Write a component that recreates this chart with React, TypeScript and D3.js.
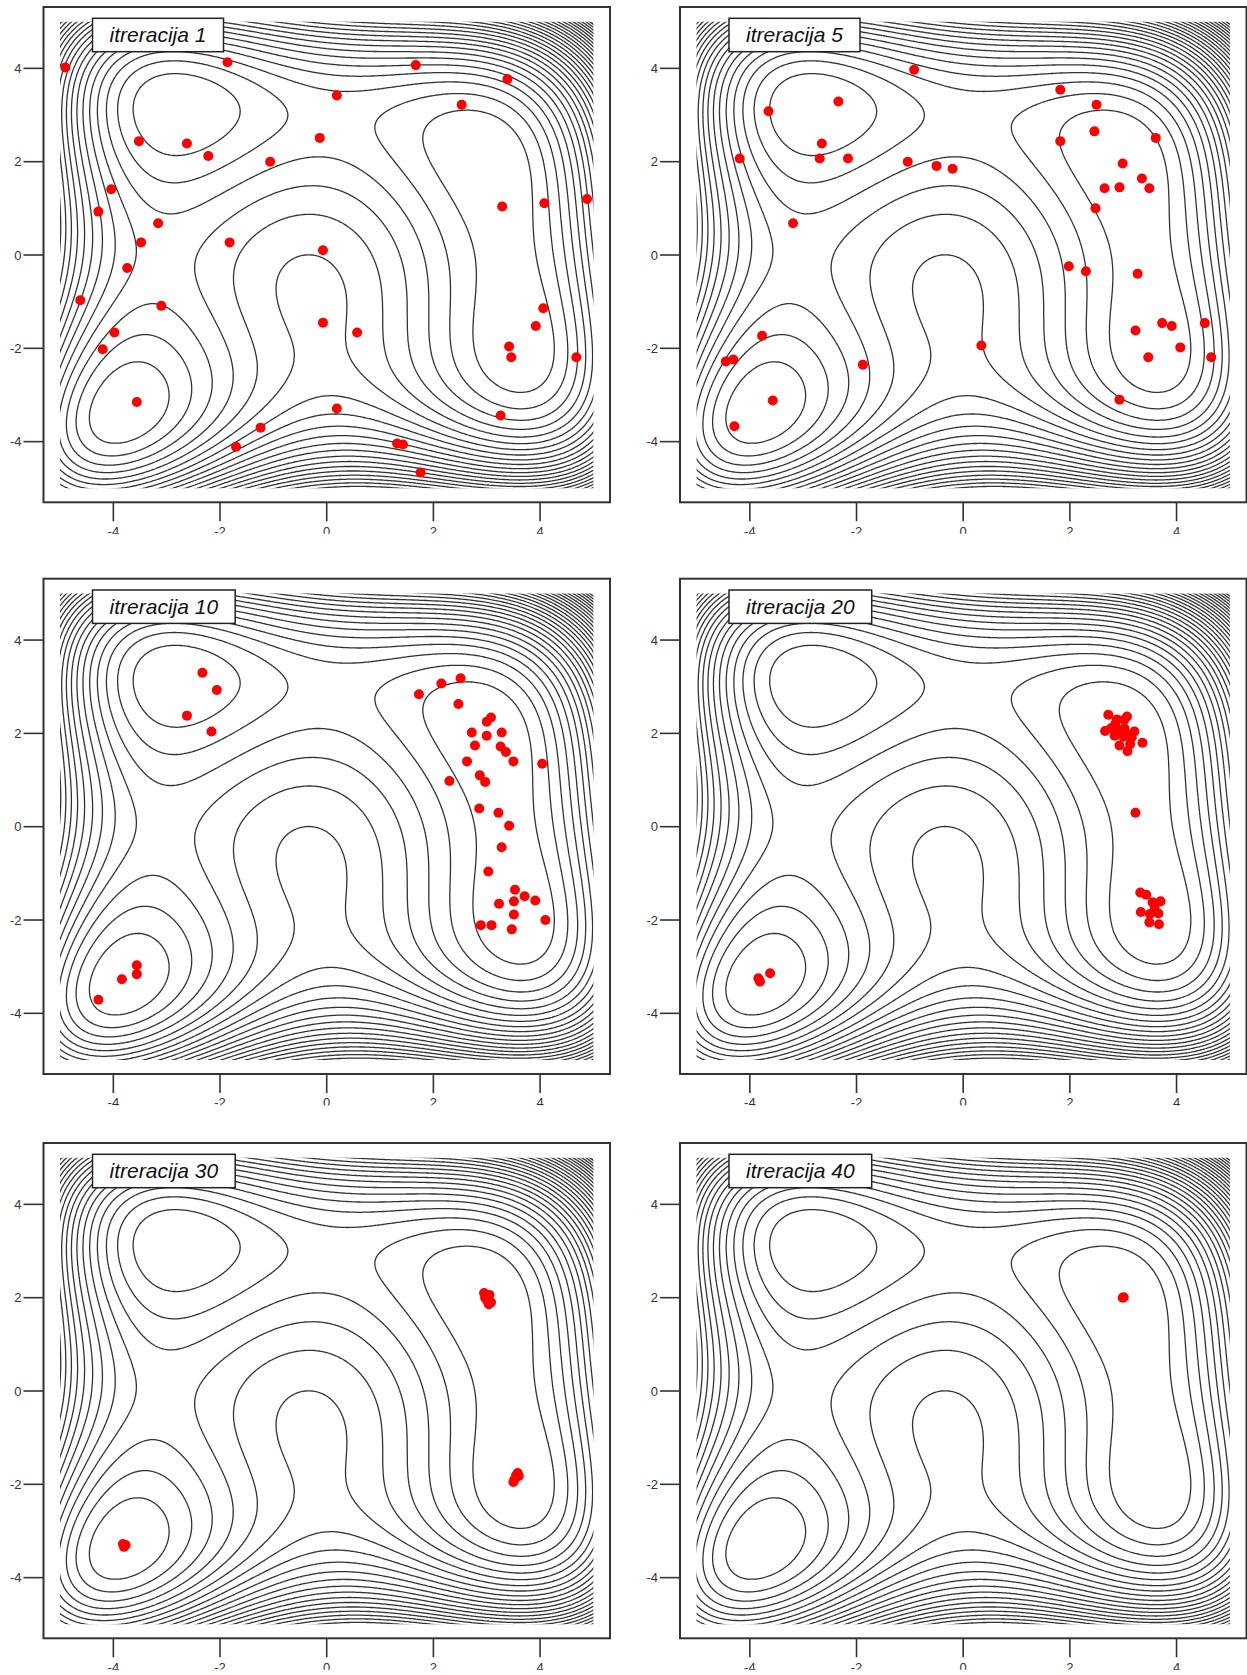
import { useMemo } from "react";
import { contours, range, scaleLinear } from "d3";

// Himmelblau surface drawn behind every iteration: 30 lines evenly spaced between 0 and 890
const contourLevels = range(1, 31).map((k) => (k * 890) / 31);
const axisTicks = [-4, -2, 0, 2, 4];

const iter1 = [
  [-4.9, 4.02], [-1.86, 4.13], [1.67, 4.07], [3.39, 3.77], [0.19, 3.42], [2.53, 3.22],
  [-3.52, 2.44], [-2.62, 2.39], [-2.22, 2.12], [-0.13, 2.51], [-1.06, 2.0], [-4.04, 1.41],
  [-4.28, 0.93], [-3.16, 0.68], [-3.48, 0.27], [-3.74, -0.28], [-1.82, 0.27], [-0.07, 0.1],
  [-4.62, -0.97], [-3.1, -1.09], [-3.98, -1.66], [-4.2, -2.02], [-0.07, -1.45], [0.57, -1.66],
  [-3.56, -3.15], [3.29, 1.04], [4.08, 1.11], [4.88, 1.2], [4.06, -1.14], [3.92, -1.52],
  [3.42, -1.96], [3.46, -2.19], [4.68, -2.19], [3.26, -3.44], [0.19, -3.29], [-1.24, -3.7],
  [-1.7, -4.11], [1.32, -4.04], [1.43, -4.06], [1.76, -4.66],
];

const iter5 = [
  [-0.92, 3.97], [-3.65, 3.08], [-2.34, 3.29], [-4.19, 2.07], [-2.65, 2.39], [-2.69, 2.07],
  [-2.16, 2.07], [-1.04, 2.0], [-0.5, 1.91], [-0.2, 1.85], [-3.19, 0.68], [1.82, 3.54],
  [2.5, 3.22], [2.46, 2.65], [1.82, 2.44], [3.61, 2.51], [2.99, 1.96], [3.35, 1.64],
  [2.65, 1.43], [2.93, 1.45], [3.49, 1.43], [2.48, 1.0], [1.98, -0.24], [2.3, -0.35],
  [3.27, -0.4], [3.23, -1.62], [3.73, -1.46], [3.91, -1.52], [4.53, -1.46], [4.07, -1.98],
  [3.47, -2.19], [4.65, -2.19], [2.93, -3.1], [0.34, -1.94], [-1.88, -2.35], [-3.77, -1.73],
  [-4.45, -2.28], [-4.31, -2.24], [-3.57, -3.12], [-4.29, -3.67],
];

const iter10 = [
  [-2.33, 3.3], [-2.06, 2.93], [-2.62, 2.38], [-2.16, 2.04], [1.73, 2.84], [2.15, 3.07],
  [2.51, 3.18], [2.47, 2.63], [3.08, 2.34], [3.0, 2.25], [2.72, 2.02], [3.0, 1.95],
  [3.28, 2.02], [3.26, 1.72], [3.36, 1.6], [2.78, 1.74], [3.5, 1.4], [2.63, 1.4],
  [2.87, 1.1], [2.97, 0.96], [2.3, 0.98], [4.04, 1.35], [2.86, 0.39], [3.22, 0.3],
  [3.42, 0.02], [3.28, -0.44], [3.03, -0.96], [3.53, -1.35], [3.23, -1.65], [3.71, -1.49],
  [3.91, -1.58], [3.51, -1.6], [3.51, -1.88], [2.89, -2.11], [3.09, -2.11], [3.47, -2.2],
  [4.1, -2.0], [-3.56, -2.97], [-3.56, -3.16], [-3.84, -3.27], [-4.28, -3.71],
];

const iter20 = [
  [2.72, 2.4], [2.88, 2.3], [3.07, 2.36], [3.02, 2.29], [2.66, 2.05], [2.77, 2.11],
  [2.91, 2.07], [3.02, 2.11], [3.21, 2.04], [3.0, 1.93], [3.16, 1.91], [2.93, 1.74],
  [3.13, 1.77], [3.08, 1.62], [3.36, 1.8], [2.85, 2.2], [3.05, 2.0], [2.84, 1.95],
  [3.23, 0.3],
  [3.32, -1.41], [3.43, -1.46], [3.55, -1.62], [3.7, -1.6], [3.33, -1.83], [3.5, -1.87],
  [3.66, -1.86], [3.49, -2.05], [3.67, -2.09], [3.59, -1.71],
  [-3.84, -3.25], [-3.81, -3.32], [-3.62, -3.14],
];

const iter30 = [
  [2.95, 2.1], [3.05, 2.06], [3.0, 1.95], [3.08, 1.9], [2.97, 2.0], [3.04, 1.86],
  [3.58, -1.76], [3.55, -1.81], [3.5, -1.95], [3.52, -1.9], [3.6, -1.82],
  [-3.82, -3.28], [-3.8, -3.34], [-3.77, -3.3],
];

const iter40 = [[2.99, 2.0], [3.01, 2.01]];

const panelTitles = [
  "itreracija 1", "itreracija 5", "itreracija 10",
  "itreracija 20", "itreracija 30", "itreracija 40",
];
const panelPoints = [iter1, iter5, iter10, iter20, iter30, iter40];

const W = 566.5;
const H = 495.3;
const colLeft = [43.5, 680];
const rowTop = [7, 578.7, 1143];

const x = scaleLinear().domain([-5, 5]).range([16.5, 549.9]);
const y = scaleLinear().domain([-5, 5]).range([481.3, 14.7]);

const himmelblau = (a: number, b: number) =>
  (a * a + b - 11) ** 2 + (a + b * b - 7) ** 2;

function useContourPaths() {
  return useMemo(() => {
    const g0 = -5.2, step = 0.025;
    const n = Math.round(10.4 / step) + 1;
    const values = new Float64Array(n * n);
    for (let j = 0; j < n; j++)
      for (let i = 0; i < n; i++)
        values[i + j * n] = himmelblau(g0 + i * step, g0 + j * step);
    const bands = contours().size([n, n]).thresholds(contourLevels)(values as any);
    const px = (c: number) => x(g0 + (c - 0.5) * step).toFixed(1);
    const py = (r: number) => y(g0 + (r - 0.5) * step).toFixed(1);
    return bands.map((band) =>
      band.coordinates
        .map((poly) =>
          poly
            .map((ring) => "M" + ring.map(([c, r]) => `${px(c)},${py(r)}`).join("L") + "Z")
            .join("")
        )
        .join("")
    );
  }, []);
}

function Panel({ idx, paths }: { idx: number; paths: string[] }) {
  const title = panelTitles[idx];
  const pts = panelPoints[idx];
  const left = colLeft[idx % 2];
  const top = rowTop[Math.floor(idx / 2)];
  const boxW = 131 + (title.length - 12) * 11.7;
  return (
    <g transform={`translate(${left},${top})`}>
      <defs>
        <clipPath id={`area-${idx}`}>
          <rect x={x(-5)} y={y(5)} width={x(5) - x(-5)} height={y(-5) - y(5)} />
        </clipPath>
        <clipPath id={`xlab-${idx}`}>
          <rect x={-10} y={H} width={W + 20} height={31.5} />
        </clipPath>
      </defs>
      <rect x={0} y={0} width={W} height={H} fill="#fff" />
      <g clipPath={`url(#area-${idx})`} fill="none" stroke="#333" strokeWidth={1.3}>
        {paths.map((d, i) => (
          <path key={i} d={d} />
        ))}
      </g>
      {pts.map(([px, py], i) => (
        <circle key={i} cx={x(px)} cy={y(py)} r={5} fill="#ff0000" />
      ))}
      <rect x={0} y={0} width={W} height={H} fill="none" stroke="#333" strokeWidth={2} />
      <rect x={49} y={11.3} width={boxW} height={33.4} fill="#fff" stroke="#222" strokeWidth={1.5} />
      <text
        x={49 + boxW / 2}
        y={35}
        textAnchor="middle"
        fontFamily="Liberation Sans, Arial, sans-serif"
        fontStyle="italic"
        fontSize={21}
        fill="#111"
      >
        {title}
      </text>
      <g stroke="#333" strokeWidth={1.6}>
        {axisTicks.map((t) => (
          <line key={`yt${t}`} x1={-20} x2={0} y1={y(t)} y2={y(t)} />
        ))}
        {axisTicks.map((t) => (
          <line key={`xt${t}`} x1={x(t)} x2={x(t)} y1={H} y2={H + 19} />
        ))}
      </g>
      <g fontFamily="Liberation Sans, Arial, sans-serif" fontSize={13} fill="#333">
        {axisTicks.map((t) => (
          <text key={`yl${t}`} x={-22} y={y(t)} dy="0.35em" textAnchor="end">
            {t < 0 ? `-${-t}` : t}
          </text>
        ))}
        <g clipPath={`url(#xlab-${idx})`}>
          {axisTicks.map((t) => (
            <text key={`xl${t}`} x={x(t)} y={H + 33.3} textAnchor="middle">
              {t < 0 ? `-${-t}` : t}
            </text>
          ))}
        </g>
      </g>
    </g>
  );
}

export default function App() {
  const paths = useContourPaths();
  return (
    <svg
      width={1247}
      height={1675}
      style={{ position: "absolute", left: 0, top: 0, background: "#fff" }}
    >
      {panelTitles.map((_, i) => (
        <Panel key={i} idx={i} paths={paths} />
      ))}
    </svg>
  );
}
